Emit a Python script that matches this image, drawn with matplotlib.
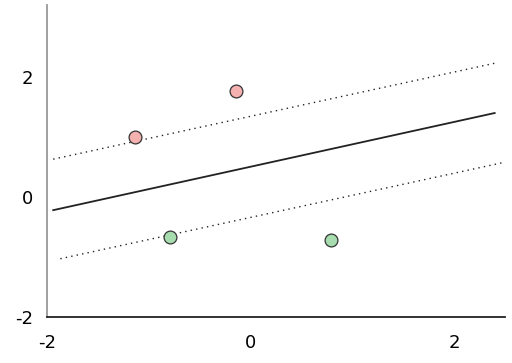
import matplotlib
matplotlib.use("Agg")
import matplotlib.pyplot as plt

# Data
red_x = [-1.14, -0.14]
red_y = [1.00, 1.77]
green_x = [-0.79, 0.79]
green_y = [-0.67, -0.72]

boundary_x = [-1.94, 2.40]
boundary_y = [-0.22, 1.40]
upper_x = [-1.94, 2.40]
upper_y = [0.63, 2.23]
lower_x = [-1.87, 2.50]
lower_y = [-1.03, 0.58]

xticks = [-2, 0, 2]
yticks = [-2, 0, 2]

plt.rcParams['font.family'] = ['DejaVu Sans']
plt.rcParams['axes.unicode_minus'] = False

fig = plt.figure(figsize=(5.12, 3.63), dpi=100)
ax = fig.add_axes([0.092, 0.127, 0.894, 0.859])

ax.plot(boundary_x, boundary_y, color='#222222', lw=1.3, linestyle='-')
ax.plot(upper_x, upper_y, color='#222222', lw=1.0, linestyle=(0, (1, 3)))
ax.plot(lower_x, lower_y, color='#222222', lw=1.0, linestyle=(0, (1, 3)))

ax.scatter(red_x, red_y, s=85, c='#f5b0b0', edgecolors='#333333', linewidths=0.9, zorder=3)
ax.scatter(green_x, green_y, s=85, c='#a6dcae', edgecolors='#333333', linewidths=0.9, zorder=3)

ax.set_xlim(-2, 2.5)
ax.set_ylim(-2, 3.2)
ax.set_xticks(xticks)
ax.set_yticks(yticks)
ax.tick_params(axis='x', length=0, labelsize=13, pad=12)
ax.tick_params(axis='y', length=0, labelsize=13, pad=10)
ax.spines['top'].set_visible(False)
ax.spines['right'].set_visible(False)
ax.spines['left'].set_color('#999999')
ax.spines['left'].set_linewidth(1.3)
ax.spines['bottom'].set_color('#222222')
ax.spines['bottom'].set_linewidth(1.3)

fig.savefig('out.png', dpi=100)
